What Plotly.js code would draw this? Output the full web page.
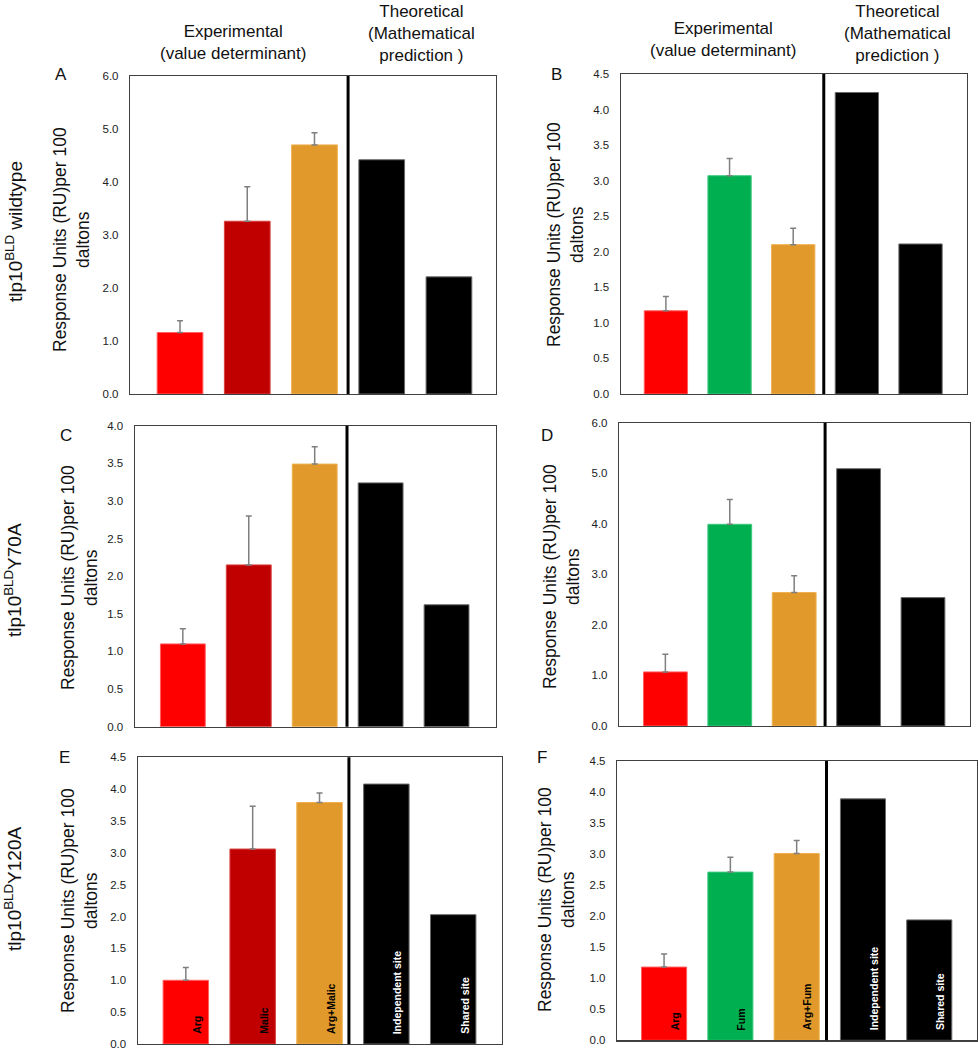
<!DOCTYPE html>
<html>
<head>
<meta charset="utf-8">
<script src="https://cdn.plot.ly/plotly-3.0.1.min.js"></script>
<style>html,body{margin:0;padding:0;background:#fff;}#chart{width:978px;height:1050px;}</style>
</head>
<body>
<div id="chart"></div>
<script>
// ---- data ----
const categoriesMalic = ['Arg', 'Malic', 'Arg+Malic', 'Independent site', 'Shared site'];
const categoriesFum = ['Arg', 'Fum', 'Arg+Fum', 'Independent site', 'Shared site'];

const expA = [1.16, 3.26, 4.70]; const errA = [0.22, 0.65, 0.23]; const theoA = [4.42, 2.21];
const expB = [1.17, 3.07, 2.10]; const errB = [0.20, 0.24, 0.23]; const theoB = [4.24, 2.11];
const expC = [1.10, 2.15, 3.49]; const errC = [0.20, 0.65, 0.23]; const theoC = [3.24, 1.62];
const expD = [1.07, 3.99, 2.64]; const errD = [0.35, 0.49, 0.33]; const theoD = [5.09, 2.54];
const expE = [1.00, 3.06, 3.79]; const errE = [0.20, 0.67, 0.15]; const theoE = [4.08, 2.03];
const expF = [1.18, 2.71, 3.01]; const errF = [0.21, 0.24, 0.21]; const theoF = [3.89, 1.94];

const rowLabels = ['tlp10<sup>BLD</sup> wildtype', 'tlp10<sup>BLD</sup>Y70A', 'tlp10<sup>BLD</sup>Y120A'];
const panelLetters = ['A', 'B', 'C', 'D', 'E', 'F'];
const yTitle = 'Response Units (RU)per 100<br>daltons';
const headerExp = 'Experimental<br>(value determinant)';
const headerTheo = 'Theoretical<br>(Mathematical<br>prediction )';

// ---- styles / layout ----
const W = 978, H = 1050;
const FONT = 'Liberation Sans, Arial, sans-serif';
const RED = '#FF0000', DARKRED = '#C00000', ORANGE = '#E0992A', GREEN = '#00B050', BLACK = '#000000';
const colorsMalic = [RED, DARKRED, ORANGE];
const colorsFum = [RED, GREEN, ORANGE];
const edgeMalic = ['#FF6060', '#D84040', '#F0B050'];
const edgeFum = ['#FF6060', '#40C880', '#F0B050'];

// pixel boxes [left, right, top, bottom]
const panels = [
  {cats: categoriesMalic, exp: expA, err: errA, theo: theoA, colors: colorsMalic, edges: edgeMalic,
   box: [130, 496, 76, 394], xr: [-0.744, 4.70], ymax: 6, dtick: 1, div: 2.5,
   title: [72, 240], letter: [61, 74], labels: false},
  {cats: categoriesFum, exp: expB, err: errB, theo: theoB, colors: colorsFum, edges: edgeFum,
   box: [620.7, 967, 74, 394], xr: [-0.71, 4.73], ymax: 4.5, dtick: 0.5, div: 2.48,
   title: [566, 235], letter: [556, 74], labels: false},
  {cats: categoriesMalic, exp: expC, err: errC, theo: theoC, colors: colorsMalic, edges: edgeMalic,
   box: [134.7, 496, 425.7, 726.7], xr: [-0.73, 4.75], ymax: 4, dtick: 0.5, div: 2.49,
   title: [79, 578], letter: [66, 436], labels: false},
  {cats: categoriesFum, exp: expD, err: errD, theo: theoD, colors: colorsFum, edges: edgeFum,
   box: [619, 970, 422.7, 726], xr: [-0.72, 4.73], ymax: 6, dtick: 1, div: 2.48,
   title: [561, 577], letter: [547, 436], labels: false},
  {cats: categoriesMalic, exp: expE, err: errE, theo: theoE, colors: colorsMalic, edges: edgeMalic,
   box: [137.7, 502, 757.3, 1044], xr: [-0.72, 4.73], ymax: 4.5, dtick: 0.5, div: 2.44,
   title: [79, 901], letter: [64, 757], labels: true},
  {cats: categoriesFum, exp: expF, err: errF, theo: theoF, colors: colorsFum, edges: edgeFum,
   box: [617, 977, 761, 1040.3], xr: [-0.71, 4.72], ymax: 4.5, dtick: 0.5, div: 2.45,
   title: [556, 900], letter: [542, 757], labels: true}
];

const data = [];
const layout = {
  width: W, height: H,
  margin: {l: 0, r: 0, t: 0, b: 0},
  paper_bgcolor: '#ffffff', plot_bgcolor: '#ffffff',
  showlegend: false,
  barmode: 'overlay',
  bargap: 0.32,
  font: {family: FONT, color: '#222'},
  annotations: [],
  shapes: []
};

panels.forEach((p, i) => {
  const n = i + 1;
  const xa = n === 1 ? 'x' : 'x' + n;
  const ya = n === 1 ? 'y' : 'y' + n;
  const xkey = n === 1 ? 'xaxis' : 'xaxis' + n;
  const ykey = n === 1 ? 'yaxis' : 'yaxis' + n;
  const [l, r, t, b] = p.box;

  data.push({
    type: 'bar', x: p.cats.slice(0, 3), y: p.exp, xaxis: xa, yaxis: ya,
    width: 0.68,
    marker: {color: p.colors, line: {color: p.edges, width: 1}},
    error_y: {type: 'data', symmetric: false, array: p.err, arrayminus: p.err.map(() => 0),
              color: '#7F7F7F', thickness: 1.5, width: 3},
    hoverinfo: 'x+y'
  });
  data.push({
    type: 'bar', x: p.cats.slice(3), y: p.theo, xaxis: xa, yaxis: ya,
    width: 0.68,
    marker: {color: [BLACK, BLACK], line: {color: '#6a6a6a', width: 1}},
    hoverinfo: 'x+y'
  });

  layout[xkey] = {
    domain: [l / W, r / W], anchor: ya,
    type: 'category', categoryorder: 'array', categoryarray: p.cats,
    range: p.xr, showticklabels: false, ticks: '',
    showline: true, mirror: true, linecolor: '#404040', linewidth: 1.2,
    showgrid: false, zeroline: false, fixedrange: true
  };
  layout[ykey] = {
    domain: [1 - b / H, 1 - t / H], anchor: xa,
    range: [0, p.ymax], dtick: p.dtick, tick0: 0, tickformat: '.1f',
    ticks: '', ticklen: 0, ticklabelstandoff: 8, ticklabeloverflow: 'allow',
    tickfont: {family: FONT, size: 11.5, color: '#222'},
    showline: true, mirror: true, linecolor: '#404040', linewidth: 1.2,
    showgrid: false, zeroline: false, fixedrange: true
  };

  // divider between experimental and theoretical
  layout.shapes.push({
    type: 'line', xref: xa, yref: ya + ' domain', x0: p.div, x1: p.div, y0: 0, y1: 1,
    line: {color: '#000', width: 3}
  });

  // y-axis title
  layout.annotations.push({
    xref: 'paper', yref: 'paper', x: p.title[0] / W, y: 1 - p.title[1] / H,
    text: yTitle, showarrow: false, textangle: -90,
    xanchor: 'center', yanchor: 'middle',
    font: {family: FONT, size: 17.5, color: '#111'}
  });
  // panel letter
  layout.annotations.push({
    xref: 'paper', yref: 'paper', x: p.letter[0] / W, y: 1 - p.letter[1] / H,
    text: panelLetters[i], showarrow: false, xanchor: 'center', yanchor: 'middle',
    font: {family: FONT, size: 17, color: '#111'}
  });

  if (p.labels) {
    p.cats.forEach((c, k) => {
      layout.annotations.push({
        xref: xa, yref: ya, x: c, y: 0, text: '<b>' + c + '</b>',
        showarrow: false, textangle: -90, xanchor: 'center', yanchor: 'bottom',
        xshift: 11, yshift: 8,
        font: {family: FONT, size: 10.5, color: k < 3 ? '#000' : '#fff'}
      });
    });
  }
});

// column headers
[[233, 42, headerExp], [421, 33, headerTheo], [723, 40, headerExp], [897, 33, headerTheo]].forEach(h => {
  layout.annotations.push({
    xref: 'paper', yref: 'paper', x: h[0] / W, y: 1 - h[1] / H, text: h[2],
    showarrow: false, xanchor: 'center', yanchor: 'middle',
    font: {family: FONT, size: 17, color: '#111'}
  });
});

// row labels
[[14, 232], [13, 580], [13, 889]].forEach((pos, k) => {
  layout.annotations.push({
    xref: 'paper', yref: 'paper', x: pos[0] / W, y: 1 - pos[1] / H, text: rowLabels[k],
    showarrow: false, textangle: -90, xanchor: 'center', yanchor: 'middle',
    font: {family: FONT, size: 19, color: '#111'}
  });
});

Plotly.newPlot('chart', data, layout, {displayModeBar: false, staticPlot: true});
</script>
</body>
</html>
